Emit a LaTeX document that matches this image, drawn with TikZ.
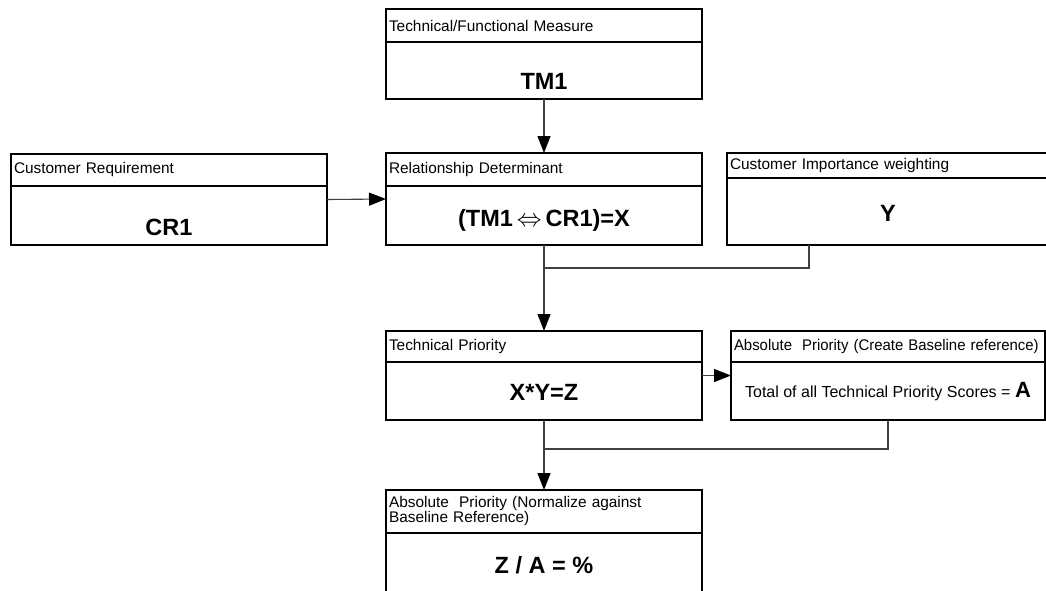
\documentclass[tikz,border=0pt]{standalone}
\usepackage{fontspec}
\setmainfont{Liberation Sans}
\usetikzlibrary{arrows.meta,fit,calc}
\begin{document}
\begin{tikzpicture}[x=1pt,y=-1pt,
  hdr/.style={draw=black, line width=1.1pt, outer sep=0pt, inner xsep=3pt, inner ysep=0pt,
    anchor=north west, align=left, font=\fontsize{15.4}{15}\selectfont},
  bodybox/.style={draw=black, line width=1.1pt, outer sep=0pt, inner sep=0pt, anchor=north west},
  val/.style={inner sep=0pt, font=\fontsize{23.5}{26}\selectfont\bfseries},
  wrap/.style={inner sep=0pt, outer sep=0pt},
  link/.style={draw=black!75, line width=1.1pt},
  flow/.style={link, -{Triangle[length=17pt,width=13pt,color=black]}}
]
\clip (0,0) rectangle (1046,590);

% Technical/Functional Measure
\node[hdr, text width=310pt, minimum height=33pt] (tmh) at (386,9) {\mbox{Technical/Functional Measure}};
\node[bodybox, minimum width=316pt, minimum height=57pt] (tm) at (tmh.south west) {};
\node[wrap, fit=(tmh)(tm)] (tmbox) {};
\node[val] (tmv) at ($(tm.center)+(0,10.5)$) {TM1};

% Customer Requirement
\node[hdr, text width=310pt, minimum height=32pt] (crh) at (11,154) {\mbox{Customer Requirement}};
\node[bodybox, minimum width=316pt, minimum height=59pt] (cr) at (crh.south west) {};
\node[wrap, fit=(crh)(cr)] (crbox) {};
\node[val] (crv) at ($(cr.center)+(0,11.5)$) {CR1};

% Relationship Determinant
\node[hdr, text width=310pt, minimum height=33pt] (rdh) at (386,153) {\mbox{Relationship Determinant}};
\node[bodybox, minimum width=316pt, minimum height=59pt] (rd) at (rdh.south west) {};
\node[wrap, fit=(rdh)(rd)] (rdbox) {};
\node[val] (rdv) at ($(rd.center)+(0,4.5)$) {(TM1\,$\Leftrightarrow$\,CR1)=X};

% Customer Importance weighting
\node[hdr, text width=316pt, minimum height=25pt] (cih) at (727,153) {\mbox{Customer Importance weighting}};
\node[bodybox, minimum width=322pt, minimum height=67pt] (ci) at (cih.south west) {};
\node[wrap, fit=(cih)(ci)] (cibox) {};
\node[val] (civ) at ($(ci.center)+(0,1.5)$) {Y};

% Technical Priority
\node[hdr, text width=310pt, minimum height=31pt] (tph) at (386,331) {\mbox{Technical Priority}};
\node[bodybox, minimum width=316pt, minimum height=58pt] (tp) at (tph.south west) {};
\node[wrap, fit=(tph)(tp)] (tpbox) {};
\node[val] (tpv) at ($(tp.center)+(0,1)$) {X*Y=Z};

% Absolute Priority (baseline)
\node[hdr, text width=308pt, minimum height=31pt] (abh) at (731,331)
  {\mbox{\scalebox{0.97}[1]{Absolute\ \ Priority (Create Baseline reference)}}};
\node[bodybox, minimum width=314pt, minimum height=58pt] (ab) at (abh.south west) {};
\node[wrap, fit=(abh)(ab)] (abbox) {};
\node[inner sep=0pt, font=\fontsize{16}{18}\selectfont] (abv) at ($(ab.center)+(0,1)$)
  {Total of all Technical Priority Scores = {\fontsize{22}{24}\selectfont\bfseries A}};

% Absolute Priority (normalized)
\node[hdr, text width=310pt, minimum height=43pt] (anh) at (386,490)
  {\mbox{Absolute\ \ Priority (Normalize against}\\\mbox{Baseline Reference)}};
\node[bodybox, minimum width=316pt, minimum height=70pt] (an) at (anh.south west) {};
\node[val] (anv) at ($(anh.south)+(0,32)$) {Z / A = \%};

% Connectors
\draw[flow] (tmbox.south) -- (rdbox.north);
\draw[flow] (crbox.east) -- (rdbox.west);
\coordinate (ciout) at ($(cibox.south west)+(82,0)$);
\coordinate (j1) at ($(rdbox.south)+(0,23)$);
\draw[link] (ciout) |- (j1);
\draw[flow] (rdbox.south) -- (tpbox.north);
\draw[flow] (tpbox.east) -- (abbox.west);
\coordinate (j2) at ($(tpbox.south)+(0,29)$);
\draw[link] (abbox.south) |- (j2);
\draw[flow] (tpbox.south) -- (anh.north);
\end{tikzpicture}
\end{document}
